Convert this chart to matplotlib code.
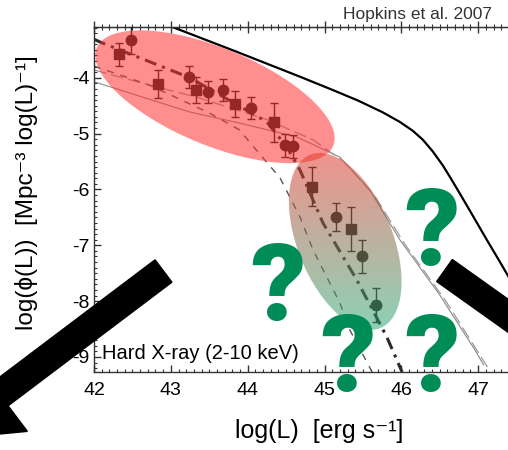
import matplotlib
matplotlib.use('Agg')
import matplotlib.pyplot as plt
import matplotlib.transforms as mtransforms
from matplotlib.patches import Ellipse, FancyArrow
from matplotlib.ticker import MultipleLocator
import numpy as np

plt.rcParams['font.family'] = ['Liberation Sans', 'DejaVu Sans']
plt.rcParams['axes.unicode_minus'] = False

# hard X-ray QLF data points (squares / circles) with symmetric errors
sq_x = [42.32, 42.83, 43.33, 43.83, 44.34, 44.84, 45.34]
sq_y = [-3.58, -4.11, -4.22, -4.47, -4.80, -5.95, -6.71]
sq_err = [0.20, 0.25, 0.24, 0.24, 0.35, 0.35, 0.40]

ci_x = [42.48, 43.23, 43.49, 43.68, 44.04, 44.49, 44.59, 45.15, 45.49, 45.67]
ci_y = [-3.32, -3.98, -4.26, -4.22, -4.54, -5.21, -5.23, -6.50, -7.20, -8.07]
ci_err = [0.25, 0.20, 0.20, 0.20, 0.20, 0.20, 0.20, 0.25, 0.30, 0.30]

# model curves
bol_x = [42.73, 43.02, 43.85, 44.68, 45.11, 45.44, 45.76, 45.98, 46.15, 46.28, 46.41,
         46.54, 46.63, 46.76, 46.93, 47.12, 47.28, 47.55, 47.81]
bol_y = [-2.93, -3.09, -3.53, -3.98, -4.22, -4.41, -4.62, -4.79, -4.95, -5.11, -5.32,
         -5.57, -5.77, -6.07, -6.47, -6.92, -7.29, -7.93, -8.54]

fit_x = [42.00, 42.08, 43.25, 44.25, 44.51, 44.68, 44.98, 45.42, 45.81, 46.01]
fit_y = [-3.31, -3.36, -4.00, -4.79, -5.24, -5.65, -6.60, -7.62, -8.64, -9.27]

dsh_x = [42.00, 42.72, 43.50, 43.89, 44.19, 44.42, 44.68, 44.85, 45.03, 45.20, 45.33, 45.62]
dsh_y = [-3.79, -4.13, -4.63, -4.93, -5.42, -5.79, -6.49, -7.08, -7.57, -8.03, -8.52, -9.27]

sol_x = [41.90, 42.00, 43.24, 43.89, 44.64, 45.20, 45.59, 45.98, 46.50, 46.96, 47.07]
sol_y = [-4.05, -4.07, -4.61, -4.81, -5.06, -5.42, -6.01, -6.90, -7.89, -8.88, -9.14]

lng_x = [42.00, 42.72, 43.37, 44.25, 44.85, 45.26, 45.66, 46.05, 46.57, 47.12]
lng_y = [-3.86, -4.13, -4.36, -4.75, -5.11, -5.51, -6.13, -6.99, -7.98, -9.18]

xticks = [42, 43, 44, 45, 46, 47, 48]
xlabels = ['42', '43', '44', '45', '46', '47', '']
yticks = [-9, -8, -7, -6, -5, -4]

fig = plt.figure(figsize=(5.08, 4.5), dpi=100)
ax = fig.add_axes([94/508, 1-372/450, 461/508, 345/450])

# pixel transform (y down) for annotations
pix = mtransforms.Affine2D().scale(0.01, -0.01).translate(0, 4.5) + fig.dpi_scale_trans

ax.plot(bol_x, bol_y, color='black', lw=1.6, zorder=2)
ax.plot(sol_x, sol_y, color='#8a8a8a', lw=0.8, zorder=2)
ax.plot(lng_x, lng_y, color='#9a9a9a', lw=0.9, ls=(0, (10, 4)), zorder=2)
ax.plot(dsh_x, dsh_y, color='#555555', lw=1.0, ls=(0, (5, 5)), zorder=2)
ax.plot(fit_x, fit_y, color='#2a2a2a', lw=2.2, ls=(0, (4, 2, 1, 2)), zorder=2)

ax.errorbar(sq_x, sq_y, yerr=sq_err, fmt='s', ms=7, color='#1a1a1a',
            elinewidth=1, capsize=3, zorder=3)
ax.errorbar(ci_x, ci_y, yerr=ci_err, fmt='o', ms=7.5, color='#1a1a1a',
            elinewidth=1, capsize=3, zorder=3)

# red ellipse
t1 = fig.dpi_scale_trans + mtransforms.ScaledTranslation(43.575, -4.34, ax.transData)
e1 = Ellipse((0, 0), 2.56, 0.97, angle=-22.5, transform=t1,
             facecolor=(1.0, 0.2, 0.2), alpha=0.55, edgecolor='none', zorder=4)
ax.add_patch(e1)

# red -> green gradient ellipse
t2 = fig.dpi_scale_trans + mtransforms.ScaledTranslation(45.27, -6.93, ax.transData)
e2 = Ellipse((0, 0), 1.87, 0.95, angle=-67.9, transform=t2,
             facecolor='none', edgecolor='none', zorder=4)
ax.add_patch(e2)
top = np.array([0.90, 0.22, 0.18])
bot = np.array([0.16, 0.68, 0.47])
f = np.linspace(0, 1, 200)[:, None]
grad = np.zeros((200, 1, 4))
grad[:, 0, :3] = top * (1 - f) + bot * f
grad[:, 0, 3] = 0.55
im = ax.imshow(grad, extent=[44.45, 46.10, -8.55, -5.32], aspect='auto',
               origin='upper', zorder=4, interpolation='bilinear')
im.set_clip_path(e2)
ax.set_xlim(42, 48)
ax.set_ylim(-9.27, -3.09)

ax.set_xticks(xticks, xlabels)
ax.set_yticks(yticks)
ax.xaxis.set_minor_locator(MultipleLocator(0.1))
ax.yaxis.set_minor_locator(MultipleLocator(0.1))
ax.tick_params(which='both', direction='in', top=False, right=True,
               colors='#333333', labelsize=14, labelcolor='black')
ax.tick_params(which='major', length=5, width=1)
ax.tick_params(which='minor', length=2.5, width=0.8)
ax.tick_params(axis='y', pad=3)
ax.tick_params(axis='x', pad=7)
for s in ax.spines.values():
    s.set_color('#333333')
    s.set_linewidth(1.0)

sec = ax.secondary_xaxis('top')
sec.set_xticks(xticks)
sec.xaxis.set_minor_locator(MultipleLocator(0.1))
sec.tick_params(which='both', direction='inout', labeltop=False, colors='#333333')
sec.tick_params(which='major', length=8, width=1)
sec.tick_params(which='minor', length=5, width=0.8)
sec.spines['top'].set_color('#333333')

ax.text(42.1, -8.93, 'Hard X-ray (2-10 keV)', fontsize=14.5, va='center', ha='left', zorder=5)

fig.text(319/508, 1-431/450, 'log(L)  [erg s⁻¹]', fontsize=18, ha='center', va='center')
fig.text(27/508, 1-193/450, 'log(ϕ(L))  [Mpc⁻³ log(L)⁻¹]', fontsize=17.5,
         ha='center', va='center', rotation=90)
fig.text(492/508, 1-14/450, 'Hopkins et al. 2007', fontsize=12.5, color='#333333',
         ha='right', va='center')

# question marks
q_x = [278, 432, 348, 432]
q_y = [320, 265, 391, 391]
for qx, qy in zip(q_x, q_y):
    fig.text(qx, qy, '?', transform=pix, fontsize=78, color='#008c57',
             family=['Roboto', 'DejaVu Sans'], fontweight='black',
             ha='center', va='baseline', zorder=6)

# thick arrows
a1 = FancyArrow(163.5, 271, -223.7, 168.8, width=28, head_width=92, head_length=75,
                length_includes_head=True, transform=pix, color='black', zorder=10)
a2 = FancyArrow(444.5, 270.5, 163, 116, width=27, head_width=90, head_length=70,
                length_includes_head=True, transform=pix, color='black', zorder=10)
fig.add_artist(a1)
fig.add_artist(a2)

fig.savefig('out.png', dpi=100)
